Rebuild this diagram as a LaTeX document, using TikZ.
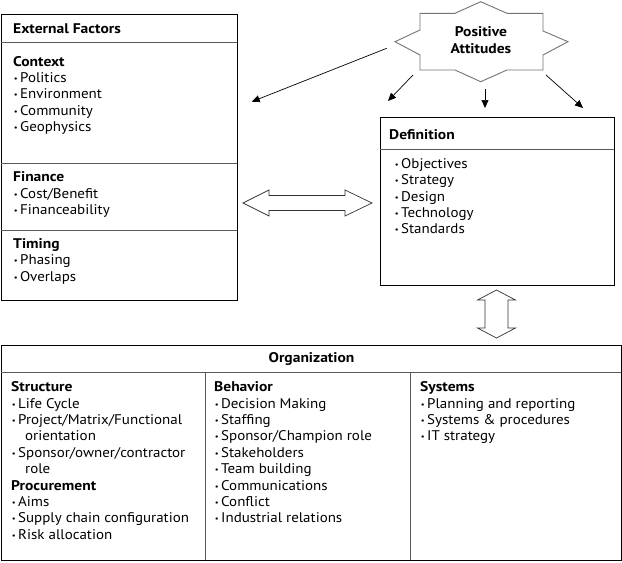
\documentclass[tikz,border=0pt]{standalone}
\usepackage{fontspec}
\setmainfont{PT Sans}[FakeStretch=1.07, BoldFeatures={FakeStretch=1.11}]
\usetikzlibrary{arrows.meta,calc}
\newcommand\bl{\makebox[7pt][l]{\hspace*{0.6pt}\fontsize{8}{8}\selectfont\raisebox{1pt}{•}}}
\newcommand\cont{\hspace*{14pt}}
\newcommand\txtcol[4]{%
  \foreach \txtline [count=\i] in {#4} {\node[txt] (#1\i) at (#2, {#3+16.4*(\i-1)}) {\txtline};}}
\begin{document}
\begin{tikzpicture}[x=1pt,y=-1pt,
  box/.style={draw=black, line width=0.9pt, inner sep=0pt},
  divl/.style={draw=black!65, line width=0.8pt},
  txt/.style={anchor=base west, inner sep=0pt, font=\fontsize{14}{16}\selectfont},
  hd/.style={anchor=base, inner sep=0pt, font=\fontsize{14}{16.5}\selectfont\bfseries, align=center},
  fat/.style={draw=black!80, line width=0.7pt, fill=white, line join=miter},
  ray/.style={draw=black, line width=0.7pt, -{Triangle[length=8pt,width=7pt]}}
]
\useasboundingbox (0,0) rectangle (622,563);

% ---------- External Factors ----------
\node[box, anchor=north west, minimum width=236, minimum height=286] (ext) at (1,14) {};
\draw[divl] (1,42) -- (237,42);
\draw[divl] (1,163) -- (237,163);
\draw[divl] (1,230) -- (237,230);
\node[txt, font=\fontsize{14}{16}\selectfont\bfseries] (exth) at (13,33) {External Factors};
\txtcol{ctx}{13}{66}{\textbf{Context},\bl Politics,\bl Environment,\bl Community,\bl Geophysics}
\txtcol{fin}{13}{181.7}{\textbf{Finance},\bl Cost/Benefit,\bl Financeability}
\txtcol{tim}{13}{248.5}{\textbf{Timing},\bl Phasing,\bl Overlaps}

% ---------- Positive Attitudes star ----------
\draw[draw=black!55, line width=0.9pt, fill=white]
  (420,13.3) -- (455,13.3) -- (480.7,1.7) -- (507,13.3) -- (543,13.3) -- (543,31)
  -- (568,41.7) -- (543,55) -- (543,70) -- (507,70) -- (480.7,81.7) -- (455,70)
  -- (420,70) -- (420,55) -- (395,41.7) -- (420,30) -- cycle;
\node[hd] (star) at (481,36.7) {Positive};
\node[hd] (star2) at (481,53.3) {Attitudes};

\coordinate (s1) at (386.7,48.3); \coordinate (t1) at (251.7,101.7);
\coordinate (s2) at (413,75);     \coordinate (t2) at (388,101);
\coordinate (s3) at (485,89);     \coordinate (t3) at (485,108);
\coordinate (s4) at (546,75);     \coordinate (t4) at (583,108);
\draw[ray] (s1) -- (t1);
\draw[ray] (s2) -- (t2);
\draw[ray] (s3) -- (t3);
\draw[ray] (s4) -- (t4);

% ---------- Definition ----------
\node[box, anchor=north west, minimum width=234, minimum height=168] (def) at (380,117) {};
\draw[divl] (380,149) -- (614,149);
\node[txt, font=\fontsize{14}{16}\selectfont\bfseries] (defh) at (389,139) {Definition};
\txtcol{dl}{394}{168.3}{\bl Objectives,\bl Strategy,\bl Design,\bl Technology,\bl Standards}

% ---------- double arrows ----------
\coordinate (ha) at (307.5,203);
\draw[fat] ($(ha)+(-64.5,0)$) -- ($(ha)+(-38.5,-13)$) -- ($(ha)+(-38.5,-7.5)$)
  -- ($(ha)+(37.5,-7.5)$) -- ($(ha)+(37.5,-13)$) -- ($(ha)+(64.5,0)$)
  -- ($(ha)+(37.5,13)$) -- ($(ha)+(37.5,7.5)$) -- ($(ha)+(-38.5,7.5)$)
  -- ($(ha)+(-38.5,13)$) -- cycle;
\coordinate (va) at (496.5,314);
\draw[fat] ($(va)+(0,-24)$) -- ($(va)+(19,-14)$) -- ($(va)+(11.5,-14)$)
  -- ($(va)+(11.5,14)$) -- ($(va)+(19,14)$) -- ($(va)+(0,24)$)
  -- ($(va)+(-19,14)$) -- ($(va)+(-11.5,14)$) -- ($(va)+(-11.5,-14)$)
  -- ($(va)+(-19,-14)$) -- cycle;

% ---------- Organization ----------
\node[box, anchor=north west, minimum width=620, minimum height=215] (org) at (1,345) {};
\draw[divl] (1,372.7) -- (621,372.7);
\draw[divl] (205,372.7) -- (205,560);
\draw[divl] (410,372.7) -- (410,560);
\node[hd] (orgh) at (311.5,362) {Organization};
\txtcol{st}{11}{391.7}{\textbf{Structure},\bl Life Cycle,\bl Project/Matrix/Functional,\cont orientation,\bl Sponsor/owner/contractor,\cont role,\textbf{Procurement},\bl Aims,\bl Supply chain configuration,\bl Risk allocation}
\txtcol{be}{214}{391.7}{\textbf{Behavior},\bl Decision Making,\bl Staffing,\bl Sponsor/Champion role,\bl Stakeholders,\bl Team building,\bl Communications,\bl Conflict,\bl Industrial relations}
\txtcol{sy}{420}{391.7}{\textbf{Systems},\bl Planning and reporting,\bl Systems \& procedures,\bl IT strategy}
\end{tikzpicture}
\end{document}
